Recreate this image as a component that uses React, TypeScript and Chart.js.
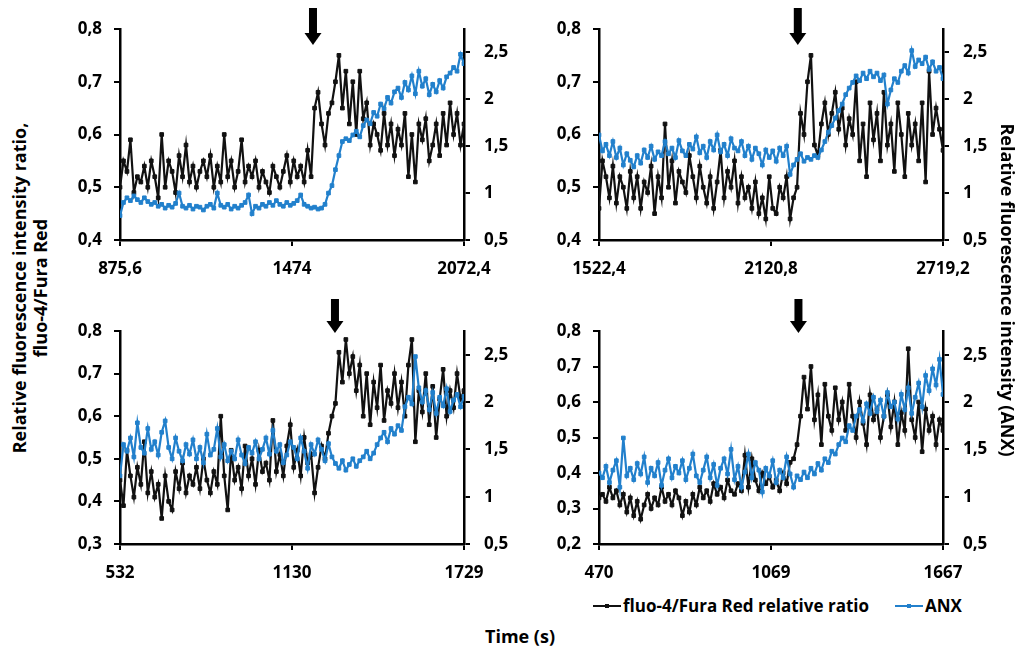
import React, { useEffect, useRef } from 'react';
import { Chart, registerables } from 'chart.js';

Chart.register(...registerables);

const FONT = "'Open Sans', 'Liberation Sans', sans-serif";
const BLACK = '#111111';
const BLUE = '#2280CC';

// ---------- shared axis data ----------
const rightTicks = [0.5, 1, 1.5, 2, 2.5];
const rightMin = 0.5;
const rightMax = 2.75;

// ---------- Panel top-left ----------
const tlRange = [875.6, 2072.4];
const tlXTicks = [875.6, 1474, 2072.4];
const tlXLabels = ['875,6', '1474', '2072,4'];
const tlLeftTicks = [0.4, 0.5, 0.6, 0.7, 0.8];
const tlStimulus = 1547;
const tlRatio = [
  0.50, 0.55, 0.53, 0.59, 0.49, 0.52, 0.51, 0.54, 0.50, 0.55,
  0.52, 0.48, 0.60, 0.50, 0.55, 0.53, 0.49, 0.56, 0.52, 0.58,
  0.51, 0.54, 0.50, 0.53, 0.55, 0.52, 0.56, 0.50, 0.54, 0.51,
  0.60, 0.52, 0.55, 0.50, 0.53, 0.59, 0.51, 0.54, 0.52, 0.55,
  0.50, 0.53, 0.51, 0.49, 0.54, 0.52, 0.50, 0.53, 0.56, 0.51,
  0.55, 0.52, 0.54, 0.51, 0.57, 0.52, 0.65, 0.68, 0.62, 0.58,
  0.64, 0.66, 0.70, 0.75, 0.65, 0.72, 0.62, 0.70, 0.60, 0.72,
  0.63, 0.66, 0.58, 0.62, 0.60, 0.57, 0.64, 0.58, 0.62, 0.56,
  0.61, 0.58, 0.64, 0.52, 0.60, 0.51, 0.62, 0.59, 0.63, 0.55,
  0.58, 0.62, 0.56, 0.64, 0.58, 0.66, 0.60, 0.64, 0.58, 0.62,
];
const tlAnx = [
  0.76, 0.90, 0.95, 0.92, 0.97, 0.93, 0.90, 0.95, 0.91, 0.88,
  0.90, 0.86, 0.88, 0.84, 0.87, 0.85, 0.89, 1.00, 0.86, 0.84,
  0.87, 0.83, 0.86, 0.85, 0.82, 0.86, 0.88, 0.84, 1.00, 0.87,
  0.85, 0.88, 0.83, 0.86, 0.84, 0.87, 0.90, 0.98, 0.78, 0.86,
  0.84, 0.88, 0.86, 0.90, 0.87, 0.92, 0.88, 0.86, 0.90, 0.87,
  0.89, 0.92, 0.98, 0.88, 0.86, 0.84, 0.85, 0.83, 0.84, 0.88,
  1.00, 1.08, 1.25, 1.40, 1.55, 1.58, 1.56, 1.62, 1.66, 1.60,
  1.72, 1.78, 1.74, 1.86, 1.82, 1.95, 1.90, 2.02, 1.96, 2.08,
  2.12, 2.02, 2.18, 2.10, 2.25, 2.06, 2.30, 2.14, 2.22, 2.05,
  2.16, 2.08, 2.20, 2.12, 2.24, 2.28, 2.34, 2.30, 2.48, 2.38,
];

// ---------- Panel top-right ----------
const trRange = [1522.4, 2719.2];
const trXTicks = [1522.4, 2120.8, 2719.2];
const trXLabels = ['1522,4', '2120,8', '2719,2'];
const trLeftTicks = [0.4, 0.5, 0.6, 0.7, 0.8];
const trStimulus = 2214;
const trRatio = [
  0.46, 0.55, 0.52, 0.48, 0.54, 0.47, 0.52, 0.50, 0.46, 0.53,
  0.48, 0.52, 0.46, 0.51, 0.49, 0.54, 0.45, 0.52, 0.48, 0.62,
  0.50, 0.55, 0.47, 0.53, 0.51, 0.49, 0.56, 0.52, 0.48, 0.54,
  0.50, 0.47, 0.52, 0.46, 0.51, 0.57, 0.48, 0.53, 0.50, 0.55,
  0.47, 0.52, 0.48, 0.50, 0.46, 0.51, 0.45, 0.48, 0.44, 0.52,
  0.46, 0.45, 0.50, 0.48, 0.52, 0.44, 0.48, 0.50, 0.64, 0.60,
  0.70, 0.75, 0.58, 0.56, 0.62, 0.66, 0.60, 0.64, 0.68, 0.61,
  0.65, 0.58, 0.63, 0.60, 0.70, 0.55, 0.62, 0.52, 0.66, 0.59,
  0.64, 0.55, 0.68, 0.58, 0.62, 0.53, 0.66, 0.60, 0.52, 0.64,
  0.58, 0.62, 0.55, 0.66, 0.51, 0.72, 0.60, 0.65, 0.61, 0.57,
];
const trAnx = [
  1.62, 1.45, 1.52, 1.40, 1.55, 1.38, 1.48, 1.30, 1.42, 1.35,
  1.28, 1.40, 1.32, 1.46, 1.38, 1.50, 1.36, 1.44, 1.40, 1.55,
  1.42, 1.48, 1.38, 1.56, 1.45, 1.40, 1.52, 1.47, 1.60, 1.43,
  1.50, 1.38, 1.55, 1.46, 1.62, 1.44, 1.52, 1.40, 1.58, 1.48,
  1.45, 1.55, 1.40, 1.50, 1.36, 1.48, 1.42, 1.30, 1.46, 1.38,
  1.45, 1.34, 1.48, 1.40, 1.50, 1.20, 1.30, 1.36, 1.42, 1.34,
  1.38, 1.36, 1.40, 1.38, 1.46, 1.55, 1.65, 1.72, 1.80, 1.88,
  1.95, 2.05, 2.12, 2.18, 2.25, 2.20, 2.28, 2.22, 2.30, 2.24,
  2.28, 2.20, 2.26, 1.95, 2.10, 2.22, 2.18, 2.30, 2.36, 2.28,
  2.52, 2.35, 2.42, 2.38, 2.45, 2.32, 2.40, 2.30, 2.34, 2.22,
];

// ---------- Panel bottom-left ----------
const blRange = [532, 1729];
const blXTicks = [532, 1130.5, 1729];
const blXLabels = ['532', '1130', '1729'];
const blLeftTicks = [0.3, 0.4, 0.5, 0.6, 0.7, 0.8];
const blStimulus = 1280;
const blRatio = [
  0.45, 0.39, 0.52, 0.46, 0.41, 0.48, 0.44, 0.54, 0.42, 0.47,
  0.41, 0.44, 0.36, 0.46, 0.40, 0.38, 0.47, 0.43, 0.49, 0.42,
  0.46, 0.44, 0.48, 0.43, 0.50, 0.45, 0.42, 0.47, 0.44, 0.60,
  0.46, 0.38, 0.52, 0.45, 0.48, 0.43, 0.53, 0.46, 0.50, 0.44,
  0.52, 0.47, 0.49, 0.45, 0.59, 0.47, 0.51, 0.46, 0.53, 0.58,
  0.48, 0.52, 0.46, 0.55, 0.49, 0.51, 0.42, 0.48, 0.53, 0.50,
  0.56, 0.60, 0.63, 0.75, 0.68, 0.78, 0.70, 0.74, 0.66, 0.72,
  0.60, 0.70, 0.58, 0.68, 0.62, 0.72, 0.59, 0.66, 0.63, 0.70,
  0.62, 0.68, 0.60, 0.72, 0.78, 0.54, 0.66, 0.61, 0.70, 0.58,
  0.67, 0.55, 0.64, 0.71, 0.60, 0.66, 0.62, 0.70, 0.64, 0.66,
];
const blAnx = [
  1.22, 1.55, 1.48, 1.62, 1.42, 1.78, 1.52, 1.46, 1.72, 1.50,
  1.58, 1.44, 1.68, 1.80, 1.52, 1.40, 1.62, 1.48, 1.38, 1.55,
  1.45, 1.60, 1.40, 1.52, 1.36, 1.66, 1.44, 1.50, 1.72, 1.42,
  1.55, 1.38, 1.48, 1.40, 1.60, 1.44, 1.35, 1.52, 1.46, 1.58,
  1.40, 1.50, 1.62, 1.45, 1.70, 1.48, 1.55, 1.36, 1.44, 1.58,
  1.52, 1.40, 1.62, 1.48, 1.30, 1.55, 1.45, 1.60, 1.50, 1.38,
  1.56, 1.42, 1.35, 1.30, 1.38, 1.28, 1.34, 1.40, 1.32, 1.38,
  1.42, 1.48, 1.40, 1.46, 1.55, 1.62, 1.68, 1.58, 1.72, 1.66,
  1.75, 1.70, 1.95, 2.05, 1.98, 2.48, 2.15, 2.00, 2.12, 1.92,
  2.10, 1.88, 2.05, 1.96, 2.14, 1.90, 2.02, 2.08, 1.95, 2.06,
];

// ---------- Panel bottom-right ----------
const brRange = [470, 1667];
const brXTicks = [470, 1068.5, 1667];
const brXLabels = ['470', '1069', '1667'];
const brLeftTicks = [0.2, 0.3, 0.4, 0.5, 0.6, 0.7, 0.8];
const brStimulus = 1164;
const brRatio = [
  0.33, 0.34, 0.32, 0.36, 0.33, 0.35, 0.31, 0.34, 0.29, 0.33,
  0.28, 0.32, 0.27, 0.31, 0.34, 0.30, 0.33, 0.31, 0.36, 0.32,
  0.34, 0.31, 0.35, 0.33, 0.28, 0.32, 0.29, 0.34, 0.31, 0.36,
  0.33, 0.35, 0.32, 0.37, 0.34, 0.36, 0.33, 0.38, 0.35, 0.34,
  0.37, 0.35, 0.45, 0.36, 0.44, 0.38, 0.35, 0.40, 0.37, 0.39,
  0.36, 0.38, 0.35, 0.40, 0.37, 0.43, 0.44, 0.48, 0.56, 0.67,
  0.58, 0.70, 0.55, 0.62, 0.48, 0.65, 0.56, 0.52, 0.64, 0.55,
  0.60, 0.52, 0.65, 0.56, 0.50, 0.60, 0.54, 0.48, 0.62, 0.55,
  0.58, 0.50, 0.56, 0.62, 0.53, 0.60, 0.48, 0.57, 0.52, 0.75,
  0.55, 0.50, 0.60, 0.46, 0.58, 0.52, 0.56, 0.48, 0.55, 0.52,
];
const brAnx = [
  1.25, 1.20, 1.32, 1.15, 1.28, 1.38, 1.10, 1.62, 1.22, 1.30,
  1.18, 1.35, 1.24, 1.42, 1.15, 1.30, 1.22, 1.36, 1.12, 1.28,
  1.40, 1.20, 1.32, 1.25, 1.38, 1.18, 1.30, 1.45, 1.22, 1.15,
  1.28, 1.42, 1.20, 1.34, 1.12, 1.30, 1.40, 1.24, 1.50, 1.18,
  1.32, 1.10, 1.26, 1.45, 1.20, 1.36, 1.28, 1.05, 1.30, 1.22,
  1.38, 1.15, 1.28, 1.20, 1.42, 1.24, 1.10, 1.22, 1.18, 1.26,
  1.20, 1.30, 1.24, 1.35, 1.28, 1.40, 1.36, 1.48, 1.45, 1.55,
  1.62, 1.58, 1.75, 1.70, 1.85, 1.92, 1.80, 1.98, 1.88, 2.05,
  1.90, 2.02, 1.85, 2.10, 1.95, 2.00, 1.82, 2.08, 1.92, 2.15,
  1.88, 2.05, 2.20, 1.95, 2.28, 2.12, 2.35, 2.18, 2.45, 2.08,
];

const fmt = (v: number) => String(Math.round(v * 10) / 10).replace('.', ',');

const tickFont = { family: FONT, size: 17, weight: 'bold' as const };

const arrowPlugin = {
  id: 'stimArrow',
  afterDraw(chart: any, _args: any, opts: any) {
    if (!opts || opts.x == null) return;
    const { ctx, chartArea } = chart;
    const x = chart.scales.x.getPixelForValue(opts.x);
    const top = chartArea.top + opts.top;
    const tip = chartArea.top + opts.tip;
    const headLen = 12;
    const shaftW = 8;
    const headW = 17;
    ctx.save();
    ctx.fillStyle = '#000';
    ctx.fillRect(x - shaftW / 2, top, shaftW, tip - headLen - top + 1);
    ctx.beginPath();
    ctx.moveTo(x - headW / 2, tip - headLen);
    ctx.lineTo(x + headW / 2, tip - headLen);
    ctx.lineTo(x, tip);
    ctx.closePath();
    ctx.fill();
    ctx.restore();
  },
};

type Rect = { left: number; top: number; width: number; height: number };
type Area = { left: number; right: number; top: number; bottom: number };

interface PanelProps {
  canvas: Rect;
  area: Area;
  ratio: number[];
  anx: number[];
  range: number[];
  xTicks: number[];
  xLabels: string[];
  leftTicks: number[];
  stimulus: number;
  arrowTop: number;
  arrowTip: number;
}

function Panel(p: PanelProps) {
  const ref = useRef<HTMLCanvasElement | null>(null);
  useEffect(() => {
    if (!ref.current) return;
    const n = p.ratio.length;
    const t = p.ratio.map((_, i) => p.range[0] + (i * (p.range[1] - p.range[0])) / (n - 1));
    const leftW = p.area.left - p.canvas.left;
    const rightW = p.canvas.left + p.canvas.width - p.area.right;
    const bottomH = p.canvas.top + p.canvas.height - p.area.bottom;
    const topPad = p.area.top - p.canvas.top;
    const gridOpts = {
      display: true,
      drawOnChartArea: false,
      drawTicks: true,
      tickLength: 6,
      tickWidth: 2,
      tickColor: '#000',
      color: '#000',
      lineWidth: 2,
    };
    const borderOpts = { display: true, color: '#000', width: 2.5 };
    const chart = new Chart(ref.current, {
      type: 'line',
      data: {
        datasets: [
          {
            label: 'ANX',
            data: p.anx.map((v, i) => ({ x: t[i], y: v })),
            yAxisID: 'y2',
            borderColor: BLUE,
            backgroundColor: BLUE,
            borderWidth: 2.2,
            pointStyle: 'rect',
            pointRadius: 2.6,
            pointBorderWidth: 1,
            tension: 0,
          },
          {
            label: 'fluo-4/Fura Red relative ratio',
            data: p.ratio.map((v, i) => ({ x: t[i], y: v })),
            yAxisID: 'y',
            borderColor: BLACK,
            backgroundColor: BLACK,
            borderWidth: 2.2,
            pointStyle: 'rect',
            pointRadius: 2.6,
            pointBorderWidth: 1,
            tension: 0,
          },
        ],
      },
      options: {
        responsive: false,
        animation: false,
        devicePixelRatio: 1,
        layout: { padding: { top: topPad, left: 0, right: 0, bottom: 0 } },
        plugins: {
          legend: { display: false },
          tooltip: { enabled: false },
          stimArrow: { x: p.stimulus, top: p.arrowTop, tip: p.arrowTip },
        } as any,
        scales: {
          x: {
            type: 'linear',
            min: p.range[0],
            max: p.range[1],
            afterBuildTicks: (s: any) => {
              s.ticks = p.xTicks.map((v) => ({ value: v }));
            },
            afterFit: (s: any) => {
              s.height = bottomH;
            },
            ticks: {
              autoSkip: false,
              maxRotation: 0,
              padding: 13,
              color: '#000',
              font: tickFont,
              callback: (_v: any, i: number) => p.xLabels[i],
            },
            grid: gridOpts,
            border: borderOpts,
          },
          y: {
            type: 'linear',
            position: 'left',
            min: p.leftTicks[0],
            max: p.leftTicks[p.leftTicks.length - 1],
            afterBuildTicks: (s: any) => {
              s.ticks = p.leftTicks.map((v) => ({ value: v }));
            },
            afterFit: (s: any) => {
              s.width = leftW;
            },
            ticks: {
              padding: 12,
              color: '#000',
              font: tickFont,
              callback: (v: any) => fmt(Number(v)),
            },
            grid: gridOpts,
            border: borderOpts,
          },
          y2: {
            type: 'linear',
            position: 'right',
            min: rightMin,
            max: rightMax,
            afterBuildTicks: (s: any) => {
              s.ticks = rightTicks.map((v) => ({ value: v }));
            },
            afterFit: (s: any) => {
              s.width = rightW;
            },
            ticks: {
              padding: 14,
              color: '#000',
              font: tickFont,
              callback: (v: any) => fmt(Number(v)),
            },
            grid: gridOpts,
            border: borderOpts,
          },
        } as any,
      },
      plugins: [arrowPlugin],
    } as any);
    return () => chart.destroy();
  }, []);
  return (
    <canvas
      ref={ref}
      width={p.canvas.width}
      height={p.canvas.height}
      style={{ position: 'absolute', left: p.canvas.left, top: p.canvas.top, width: p.canvas.width, height: p.canvas.height }}
    />
  );
}

function Swatch({ color }: { color: string }) {
  return (
    <span style={{ position: 'relative', display: 'inline-block', width: 28, height: 12, marginRight: 2 }}>
      <span style={{ position: 'absolute', left: 0, top: 5, width: 28, height: 2, background: color }} />
      <span style={{ position: 'absolute', left: 12, top: 4, width: 4, height: 4, background: color }} />
    </span>
  );
}

export default function App() {
  const titleStyle: React.CSSProperties = {
    position: 'absolute',
    font: `bold 18px ${FONT}`,
    color: '#000',
    textAlign: 'center',
    whiteSpace: 'nowrap',
  };
  return (
    <div style={{ position: 'absolute', left: 0, top: 0, width: 1020, height: 651, background: '#fff', overflow: 'hidden' }}>
      <Panel
        canvas={{ left: 60, top: 0, width: 460, height: 280 }}
        area={{ left: 120, right: 464, top: 29, bottom: 240 }}
        ratio={tlRatio}
        anx={tlAnx}
        range={tlRange}
        xTicks={tlXTicks}
        xLabels={tlXLabels}
        leftTicks={tlLeftTicks}
        stimulus={tlStimulus}
        arrowTop={-21}
        arrowTip={16}
      />
      <Panel
        canvas={{ left: 539, top: 0, width: 460, height: 280 }}
        area={{ left: 599, right: 943, top: 29, bottom: 240 }}
        ratio={trRatio}
        anx={trAnx}
        range={trRange}
        xTicks={trXTicks}
        xLabels={trXLabels}
        leftTicks={trLeftTicks}
        stimulus={trStimulus}
        arrowTop={-21}
        arrowTip={16}
      />
      <Panel
        canvas={{ left: 60, top: 290, width: 460, height: 290 }}
        area={{ left: 120, right: 464, top: 331, bottom: 544 }}
        ratio={blRatio}
        anx={blAnx}
        range={blRange}
        xTicks={blXTicks}
        xLabels={blXLabels}
        leftTicks={blLeftTicks}
        stimulus={blStimulus}
        arrowTop={-32}
        arrowTip={2}
      />
      <Panel
        canvas={{ left: 539, top: 290, width: 460, height: 290 }}
        area={{ left: 599, right: 943, top: 331, bottom: 544 }}
        ratio={brRatio}
        anx={brAnx}
        range={brRange}
        xTicks={brXTicks}
        xLabels={brXLabels}
        leftTicks={brLeftTicks}
        stimulus={brStimulus}
        arrowTop={-32}
        arrowTip={2}
      />
      <div
        style={{
          ...titleStyle,
          left: 29.5 - 250,
          top: 288 - 21,
          width: 500,
          lineHeight: '21px',
          transform: 'rotate(-90deg)',
        }}
      >
        Relative fluorescence intensity ratio,
        <br />
        fluo-4/Fura Red
      </div>
      <div
        style={{
          ...titleStyle,
          left: 1008 - 250,
          top: 290 - 12,
          width: 500,
          lineHeight: '24px',
          transform: 'rotate(90deg)',
        }}
      >
        Relative fluorescence intensity (ANX)
      </div>
      <div style={{ ...titleStyle, left: 520 - 100, top: 636 - 12, width: 200, lineHeight: '24px' }}>Time (s)</div>
      <div
        style={{
          position: 'absolute',
          left: 593,
          top: 594,
          display: 'flex',
          alignItems: 'center',
          font: `bold 17px ${FONT}`,
          color: '#000',
          whiteSpace: 'nowrap',
          lineHeight: '24px',
        }}
      >
        <Swatch color={BLACK} />
        <span>fluo-4/Fura Red relative ratio</span>
        <span style={{ display: 'inline-block', width: 26 }} />
        <Swatch color={BLUE} />
        <span>ANX</span>
      </div>
    </div>
  );
}
